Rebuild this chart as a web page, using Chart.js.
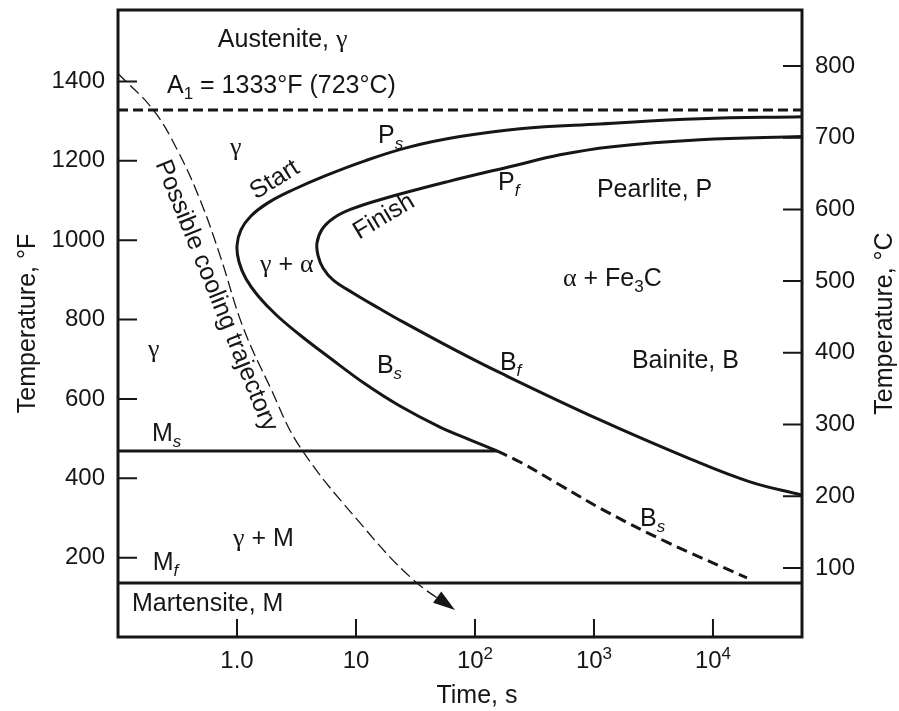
<!DOCTYPE html>
<html><head><meta charset="utf-8">
<script src="https://cdn.jsdelivr.net/npm/chart.js@4.4.1/dist/chart.umd.min.js"></script>
<style>html,body{margin:0;padding:0;background:#fff;overflow:hidden}canvas{display:block}</style>
</head><body>
<canvas id="c" width="899" height="711"></canvas>
<script>
// ---------- data (time in s, temperature in °F) ----------
const startTime = [56000, 7780, 1123, 239, 74.8, 28.4, 11.9, 5.49, 2.96, 1.82, 1.31, 1.08, 1.00, 1.04, 1.19, 1.50, 2.13, 3.38, 6.05, 11.9, 23.4, 50.8, 90.8, 153];
const startTemp = [1311, 1306, 1293, 1281, 1261, 1235, 1200, 1162, 1127, 1094, 1061, 1026, 986, 945, 903, 860, 812, 761, 703, 638, 582, 529, 497, 469];
const finishTime = [56000, 7780, 1362, 518, 208, 58.2, 15.9, 9.1, 6.5, 5.2, 4.70, 4.80, 5.28, 6.41, 9.44, 15.9, 24.8, 65.3, 162, 1123, 6412, 20460, 56000];
const finishTemp = [1261, 1253, 1235, 1215, 1187, 1147, 1102, 1078, 1056, 1028, 993, 961, 930, 900, 867, 827, 794, 726, 666, 547, 449, 391, 358];
const bainiteDashTime = [153, 239, 518, 1237, 4105, 19300];
const bainiteDashTemp = [469, 441, 383, 318, 239, 149];
const coolTime = [0.1, 0.197, 0.313, 0.489, 0.73, 1.12, 1.89, 3.38, 11.5, 30.1, 67.9];
const coolTemp = [1420, 1329, 1229, 1102, 956, 782, 631, 479, 278, 145, 68];
const a1Time = [0.1, 56000];
const a1Temp = [1328, 1328];
const msTime = [0.1, 153];
const msTemp = [469, 469];
const mfTime = [0.1, 56000];
const mfTemp = [136, 136];

const timeTicks = [1, 10, 100, 1000, 10000];
const timeTickBase = ['1.0', '10', '10', '10', '10'];
const timeTickExp = ['', '', '2', '3', '4'];
const tempFTicks = [200, 400, 600, 800, 1000, 1200, 1400];
const tempCTicks = [100, 200, 300, 400, 500, 600, 700, 800];

// region labels, placed in data coordinates (time s, °F)
const notes = [
  {t: 0.69,  F: 1487, segs: [['Austenite, ', 'n'], ['γ', 'g']]},
  {t: 0.258, F: 1371, segs: [['A', 'n'], ['1', 'sub'], [' = 1333°F (723°C)', 'n']]},
  {t: 0.873, F: 1215, segs: [['γ', 'g']]},
  {t: 15.3,  F: 1245, segs: [['P', 'n'], ['s', 'subi']]},
  {t: 2.08,  F: 1152, rot: -32, segs: [['Start', 'n']]},
  {t: 17.2,  F: 1059, rot: -31, segs: [['Finish', 'n']]},
  {t: 156,   F: 1127, segs: [['P', 'n'], ['f', 'subi']]},
  {t: 1059,  F: 1109, segs: [['Pearlite, P', 'n']]},
  {t: 1.56,  F: 920,  segs: [['γ', 'g'], [' + ', 'n'], ['α', 'g']]},
  {t: 548,   F: 885,  segs: [['α', 'g'], [' + Fe', 'n'], ['3', 'sub'], ['C', 'n']]},
  {t: 0.179, F: 706,  segs: [['γ', 'g']]},
  {t: 15.0,  F: 666,  segs: [['B', 'n'], ['s', 'subi']]},
  {t: 162,   F: 673,  segs: [['B', 'n'], ['f', 'subi']]},
  {t: 2084,  F: 678,  segs: [['Bainite, B', 'n']]},
  {t: 0.667, F: 860,  rot: 68, segs: [['Possible cooling trajectory', 'n']]},
  {t: 0.193, F: 494,  segs: [['M', 'n'], ['s', 'subi']]},
  {t: 0.925, F: 229,  segs: [['γ', 'g'], [' + M', 'n']]},
  {t: 0.196, F: 169,  segs: [['M', 'n'], ['f', 'subi']]},
  {t: 0.131, F: 66,   segs: [['Martensite, M', 'n']]},
  {t: 2438,  F: 280,  segs: [['B', 'n'], ['s', 'subi']]}
];

// ---------- styles ----------
const INK = '#161616';
const SANS = '"Liberation Sans", Arial, Helvetica, sans-serif';
const SERIF = '"Liberation Serif", "Times New Roman", serif';
const STY = {
  n:    {font: '25px ' + SANS, dy: 0},
  d:    {font: '24px ' + SANS, dy: 0},
  g:    {font: '26px ' + SERIF, dy: 0},
  sub:  {font: '17px ' + SANS, dy: 6},
  subi: {font: 'italic 17px ' + SANS, dy: 6},
  sup:  {font: '17px ' + SANS, dy: -9}
};

function pairs(xs, ys) { return xs.map((x, i) => ({x: x, y: ys[i]})); }

function drawRich(ctx, segs, x, y, align) {
  let w = 0;
  const ws = segs.map(([t, s]) => { ctx.font = STY[s].font; const m = ctx.measureText(t).width; w += m; return m; });
  let cx = align === 'center' ? x - w / 2 : x;
  ctx.textAlign = 'left';
  segs.forEach(([t, s], i) => { ctx.font = STY[s].font; ctx.fillText(t, cx, y + STY[s].dy); cx += ws[i]; });
}

const COOL_INDEX = 6;

const overlay = {
  id: 'overlay',
  afterDatasetsDraw(chart) {
    const {ctx, chartArea: a, scales} = chart;
    const xs = scales.x, yF = scales.y, yC = scales.yC;
    ctx.save();
    ctx.strokeStyle = INK; ctx.fillStyle = INK;

    // inward tick marks
    ctx.lineWidth = 2;
    ctx.beginPath();
    timeTicks.forEach(v => { const p = xs.getPixelForValue(v); ctx.moveTo(p, a.bottom); ctx.lineTo(p, a.bottom - 18); });
    tempFTicks.forEach(v => { const p = yF.getPixelForValue(v); ctx.moveTo(a.left, p); ctx.lineTo(a.left + 19, p); });
    tempCTicks.forEach(v => { const p = yC.getPixelForValue(v); ctx.moveTo(a.right, p); ctx.lineTo(a.right - 19, p); });
    ctx.stroke();

    // frame
    ctx.lineWidth = 3;
    ctx.strokeRect(a.left, a.top, a.right - a.left, a.bottom - a.top);

    // arrow head on cooling trajectory
    const pts = chart.getDatasetMeta(COOL_INDEX).data;
    const e = pts[pts.length - 1], s = pts[pts.length - 2];
    let ang = Math.atan2(e.y - s.y, e.x - s.x);
    if (e.cp1x !== undefined && (e.x !== e.cp1x || e.y !== e.cp1y)) ang = Math.atan2(e.y - e.cp1y, e.x - e.cp1x);
    ctx.save();
    ctx.translate(e.x, e.y); ctx.rotate(ang);
    ctx.beginPath(); ctx.moveTo(0, 0); ctx.lineTo(-22, -7); ctx.lineTo(-22, 7); ctx.closePath(); ctx.fill();
    ctx.restore();

    // x tick labels with exponents
    ctx.textBaseline = 'alphabetic';
    timeTicks.forEach((v, i) => {
      const p = xs.getPixelForValue(v);
      const segs = timeTickExp[i] ? [[timeTickBase[i], 'd'], [timeTickExp[i], 'sup']] : [[timeTickBase[i], 'd']];
      drawRich(ctx, segs, p, a.bottom + 31, 'center');
    });
    // x title
    drawRich(ctx, [['Time, s', 'n']], xs.getPixelForValue(100) + 2, a.bottom + 66, 'center');

    // right title (reads bottom to top)
    ctx.save();
    ctx.translate(a.right + 83, (a.top + a.bottom) / 2);
    ctx.rotate(-Math.PI / 2);
    ctx.textBaseline = 'middle';
    drawRich(ctx, [['Temperature, °C', 'n']], 0, 0, 'center');
    ctx.restore();

    // region labels
    notes.forEach(nt => {
      const px = xs.getPixelForValue(nt.t), py = yF.getPixelForValue(nt.F);
      if (nt.rot !== undefined) {
        ctx.save();
        ctx.translate(px, py); ctx.rotate(nt.rot * Math.PI / 180);
        ctx.textBaseline = 'middle';
        drawRich(ctx, nt.segs, 0, 0, 'center');
        ctx.restore();
      } else {
        ctx.textBaseline = 'alphabetic';
        drawRich(ctx, nt.segs, px, py, 'left');
      }
    });
    ctx.restore();
  }
};

function noPad(s) { s.paddingTop = 0; s.paddingBottom = 0; s.paddingLeft = 0; s.paddingRight = 0; }

const solid = {borderColor: INK, borderWidth: 3, pointRadius: 0, fill: false};

new Chart(document.getElementById('c'), {
  type: 'line',
  data: {
    datasets: [
      Object.assign({label: 'Start', data: pairs(startTime, startTemp), tension: 0.4}, solid),
      Object.assign({label: 'Finish', data: pairs(finishTime, finishTemp), tension: 0.4}, solid),
      Object.assign({label: 'A1', data: pairs(a1Time, a1Temp), tension: 0, borderDash: [10, 5]}, solid),
      Object.assign({label: 'Ms', data: pairs(msTime, msTemp), tension: 0}, solid),
      Object.assign({label: 'Mf', data: pairs(mfTime, mfTemp), tension: 0}, solid),
      Object.assign({label: 'Bs dashed', data: pairs(bainiteDashTime, bainiteDashTemp), tension: 0.4, borderDash: [11, 6]}, solid),
      {label: 'Cooling', data: pairs(coolTime, coolTemp), tension: 0.4, borderColor: INK, borderWidth: 1.3, borderDash: [12, 5], pointRadius: 0, fill: false}
    ]
  },
  options: {
    responsive: false,
    animation: false,
    devicePixelRatio: 1,
    layout: {padding: {top: 10, left: 0, right: 0, bottom: 0}, autoPadding: false},
    plugins: {legend: {display: false}, tooltip: {enabled: false}},
    scales: {
      x: {
        type: 'logarithmic', position: 'bottom', min: 0.1, max: 56000,
        afterBuildTicks: s => { s.ticks = timeTicks.map(v => ({value: v})); },
        afterFit: s => { s.height = 74; noPad(s); },
        grid: {display: false, drawTicks: false}, border: {display: false},
        ticks: {display: false}
      },
      y: {
        type: 'linear', position: 'left', min: 0, max: 1580,
        afterBuildTicks: s => { s.ticks = tempFTicks.map(v => ({value: v})); },
        afterFit: s => { s.width = 118; noPad(s); },
        grid: {display: false, drawTicks: false}, border: {display: false},
        ticks: {padding: 13, color: INK, font: {family: SANS, size: 24}, callback: v => String(v)},
        title: {display: true, text: 'Temperature, °F', color: INK, font: {family: SANS, size: 25}, padding: {top: 13, bottom: 0}}
      },
      yC: {
        type: 'linear', position: 'right', min: 3.8, max: 878,
        afterBuildTicks: s => { s.ticks = tempCTicks.map(v => ({value: v})); },
        afterFit: s => { s.width = 97; noPad(s); },
        grid: {display: false, drawTicks: false}, border: {display: false},
        ticks: {padding: 13, color: INK, font: {family: SANS, size: 24}, callback: v => String(v)}
      }
    }
  },
  plugins: [overlay]
});
</script>
</body></html>
